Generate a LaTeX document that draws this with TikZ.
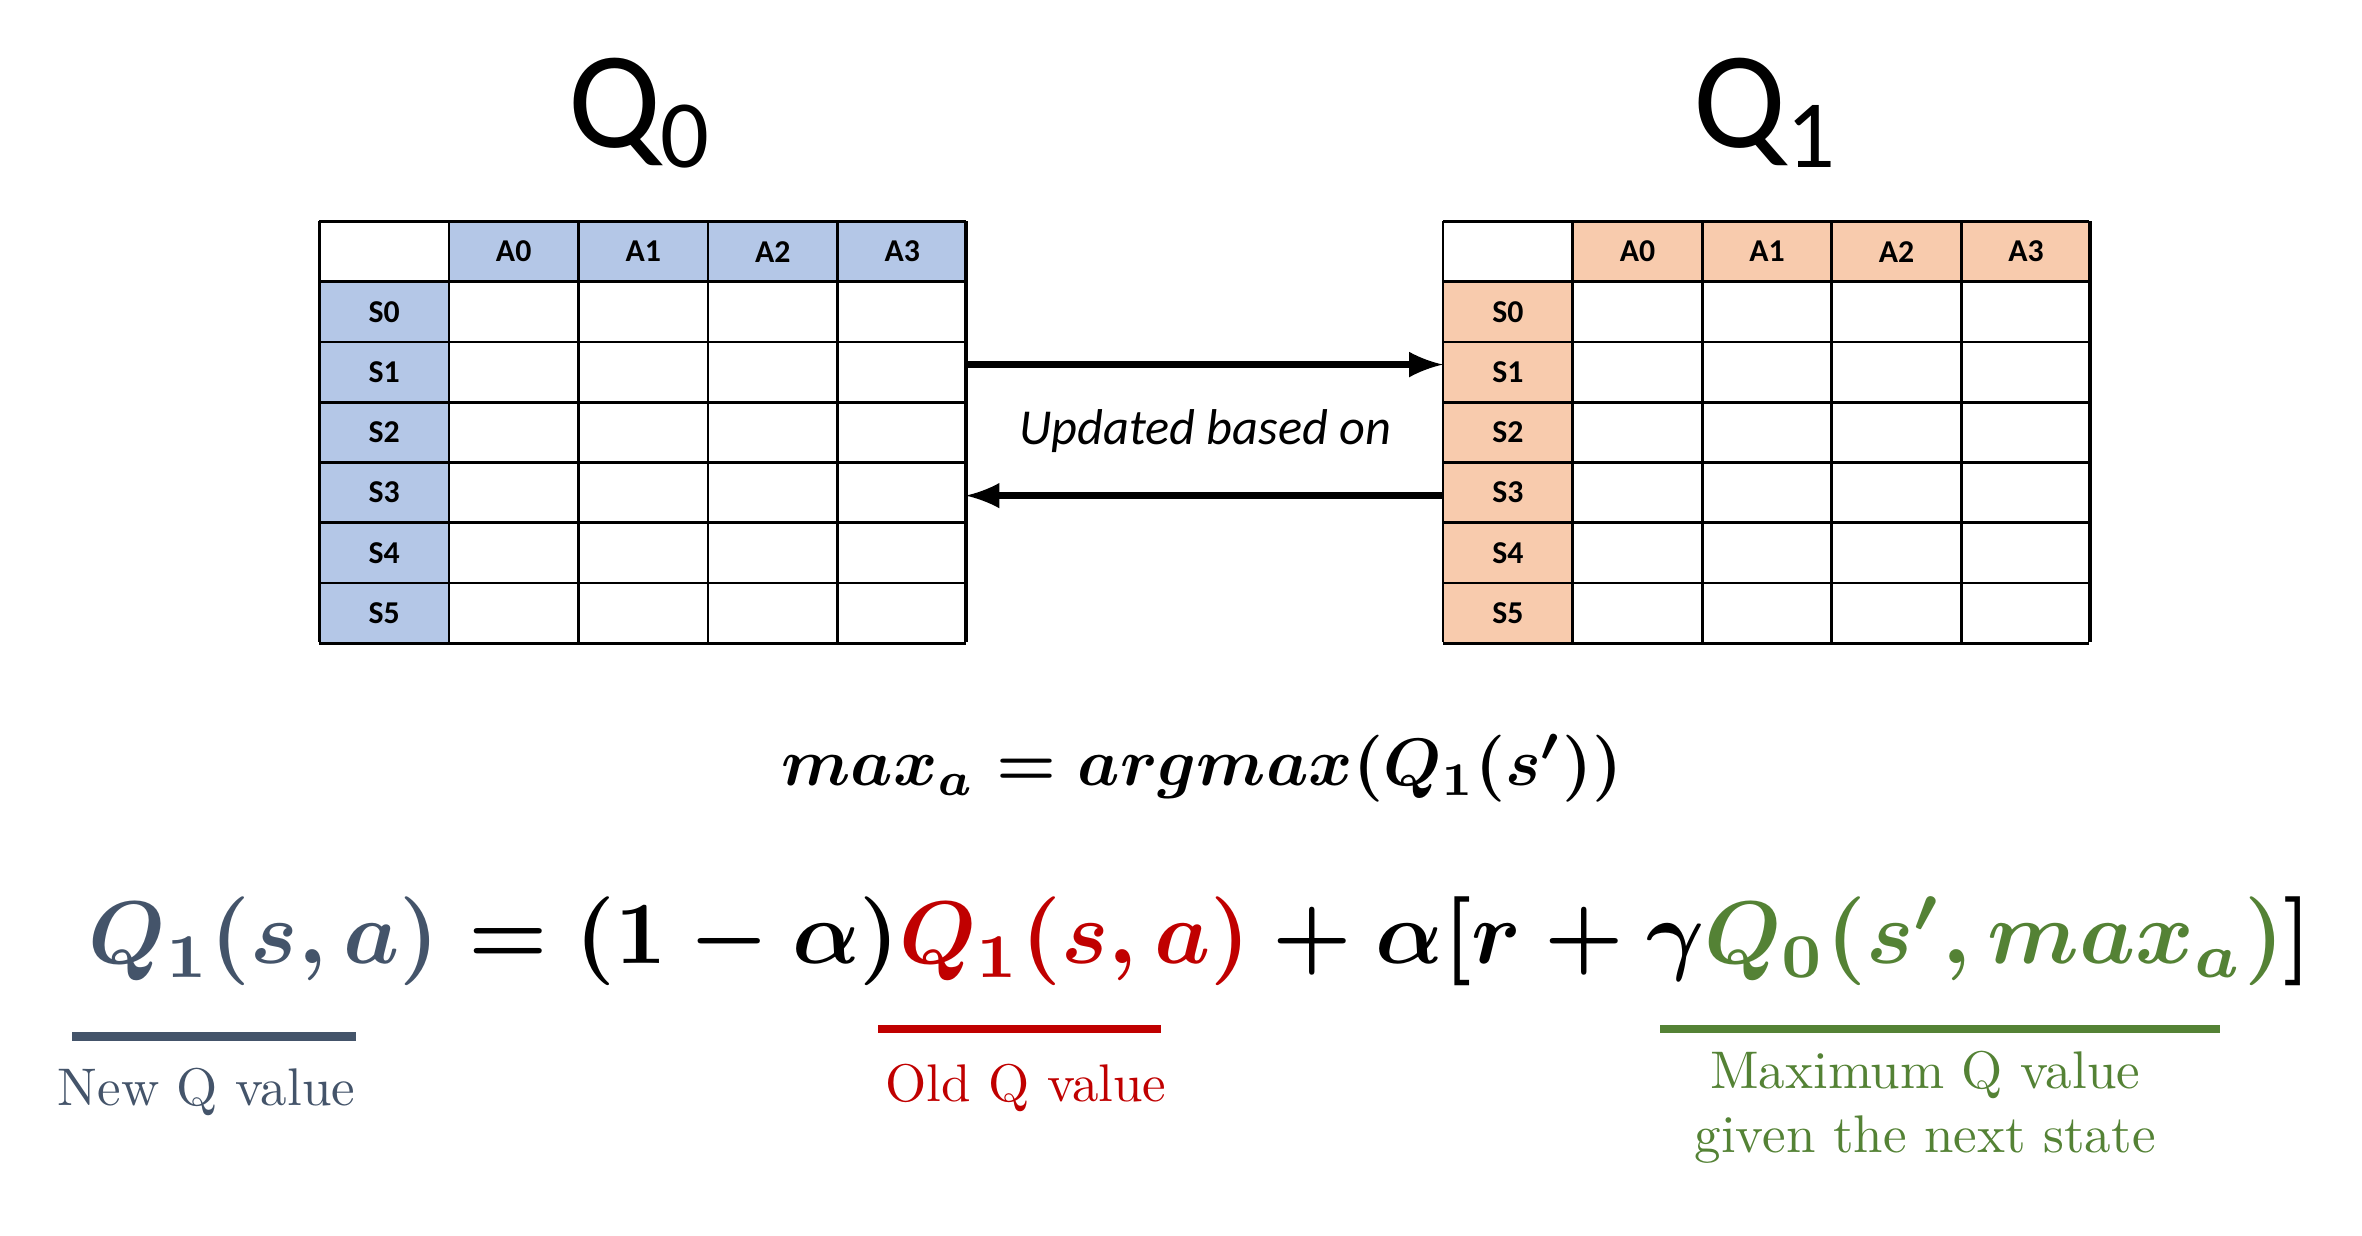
\documentclass[tikz,border=0pt]{standalone}
\usepackage{fontspec}
\usepackage{amsmath}
\newfontfamily\carl{Carlito}
\definecolor{qblue}{HTML}{B4C7E7}
\definecolor{qorange}{HTML}{F8CBAD}
\definecolor{newc}{HTML}{44546A}
\definecolor{oldc}{HTML}{C00000}
\definecolor{maxc}{HTML}{548235}
\begin{document}
\begin{tikzpicture}[x=0.01cm,y=-0.01cm,
  cellt/.style={font=\carl\bfseries\fontsize{6}{7}\selectfont},
  tbl/.style={line width=0.5pt},
  lab/.style={font=\fontsize{10}{12}\selectfont}]
\useasboundingbox (0,0) rectangle (1568,820);
\foreach \ox/\col/\nm in {212/qblue/L, 958/qorange/R}{
  \fill[\col] (\ox+86,147) rectangle (\ox+429,187);
  \fill[\col] (\ox,187) rectangle (\ox+86,426);
  \foreach \i in {0,...,5}{\draw[tbl] (\ox+86*\i,147) -- (\ox+86*\i,426);}
  \foreach \j in {0,...,7}{\draw[tbl] (\ox,147+40*\j) -- (\ox+429,147+40*\j);}
  \draw[tbl] (\ox+429,147) -- (\ox+429,426);
  \foreach \i in {0,...,3}{\node[cellt] (\nm a\i) at (\ox+129+86*\i,167) {A\i};}
  \foreach \j in {0,...,5}{\node[cellt] (\nm s\j) at (\ox+43,207+40*\j) {S\j};}
}
\coordinate (lt) at (641,242); \coordinate (rt) at (958,242);
\coordinate (lb) at (641,329); \coordinate (rb) at (958,329);
\draw[-latex,line width=1.2pt] (lt) -- (rt);
\draw[-latex,line width=1.2pt] (rb) -- (lb);
\node[font=\carl\itshape\fontsize{9.5}{11}\selectfont] (upd) at (800,286) {Updated based on};
\node[font=\carl\fontsize{26}{30}\selectfont] (q0) at (425,75) {Q\textsubscript{0}};
\node[font=\carl\fontsize{26}{30}\selectfont] (q1) at (1172,75) {Q\textsubscript{1}};
\node (mx) at (798,510) {\resizebox{5.58cm}{!}{\boldmath$max_a = argmax(Q_1(s'))$}};
\node (eq) at (797,625) {\resizebox{14.75cm}{!}{\boldmath${\color{newc}Q_1(s,a)} = (1-\alpha){\color{oldc}Q_1(s,a)}+\alpha\lbrack r+\gamma{\color{maxc}Q_0(s',max_a)}\rbrack$}};
\draw[newc,line width=1.6pt] (48,688) -- (236,688);
\draw[oldc,line width=1.6pt] (583,683) -- (771,683);
\draw[maxc,line width=1.6pt] (1102,683) -- (1474,683);
\node[lab,text=newc] (nq) at (137,725) {New Q value};
\node[lab,text=oldc] (oq) at (681,722) {Old Q value};
\node[lab,text=maxc,align=center] (mq) at (1278,735) {Maximum Q value\\given the next state};
\end{tikzpicture}
\end{document}
